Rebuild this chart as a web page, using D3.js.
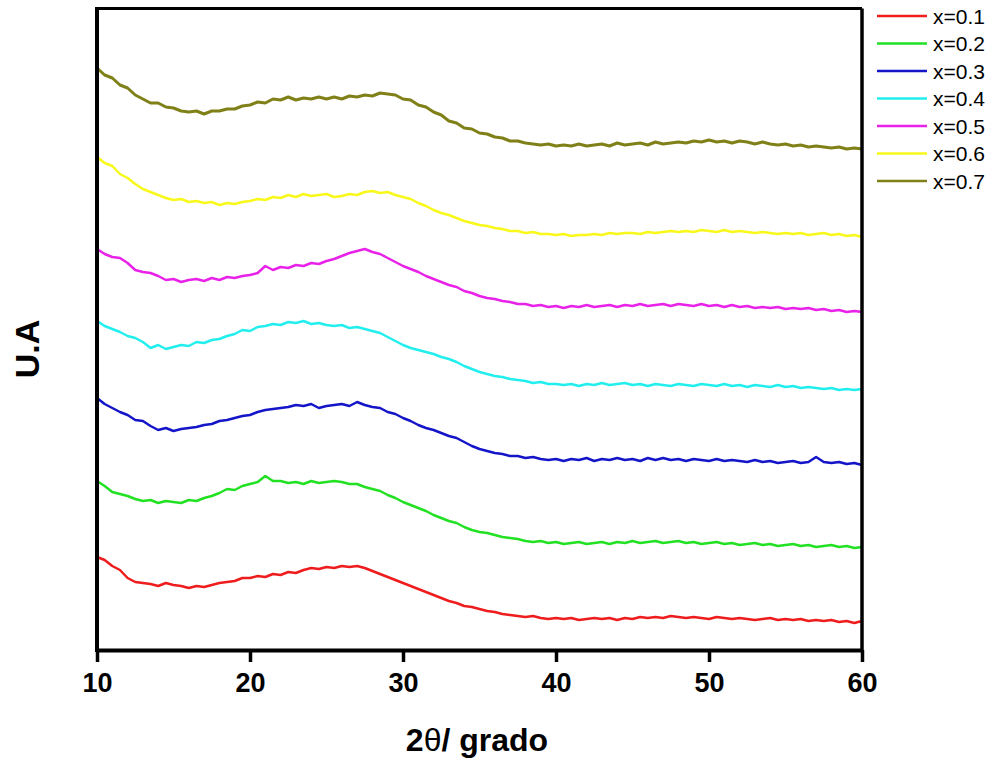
<!DOCTYPE html>
<html>
<head>
<meta charset="utf-8">
<script src="https://cdn.jsdelivr.net/npm/d3@7"></script>
<style>
  body { margin: 0; background: #fff; }
  svg { display: block; font-family: Arial, "Liberation Sans", sans-serif; }
</style>
</head>
<body>
<div id="chart"></div>
<script>
// 2theta grid: 10 .. 60 deg, step 0.5
const thetaStart = 10, thetaStep = 0.5;
const xTicks = [10, 20, 30, 40, 50, 60];

const labels = ["x=0.1", "x=0.2", "x=0.3", "x=0.4", "x=0.5", "x=0.6", "x=0.7"];
const colors = ["#ee1c1c", "#22e022", "#1414c8", "#22eeee", "#e822e8", "#f8f81a", "#808018"];

// intensities (a.u., stacked as plotted), one value every 0.5 deg
const x01 = [
  93,90,84,80,72,68,67,66,64,67,
  65,64,62,64,63,65,67,68,69,72,
  72,74,73,76,75,78,77,80,82,81,
  83,82,84,83,84,82,79,76,73,70,
  67,64,61,58,55,52,49,47,44,43,
  41,39,38,36,35,34,33,34,32,31,
  32,31,32,30,31,32,31,32,30,32,
  31,33,32,33,32,34,33,32,33,32,
  31,33,32,31,32,31,30,31,32,30,
  31,30,31,29,30,29,30,28,29,27,
  29];
const x02 = [
  169,164,158,156,154,151,149,150,147,149,
  148,147,150,149,152,154,157,161,160,164,
  166,168,174,169,169,167,168,166,169,167,
  168,169,168,166,166,163,161,159,155,152,
  148,145,142,139,135,132,129,127,123,120,
  118,117,115,113,112,111,109,108,109,107,
  108,106,107,108,106,107,108,106,108,107,
  109,107,108,109,107,108,109,107,108,106,
  107,108,106,107,105,106,107,105,106,104,
  105,106,104,105,103,104,105,103,104,102,
  103];
const x03 = [
  252,246,242,238,235,230,229,224,220,222,
  219,221,222,223,225,226,229,230,232,234,
  235,238,240,241,242,243,245,244,246,242,
  244,245,246,244,248,245,243,242,238,236,
  232,229,225,222,220,217,214,212,208,204,
  201,199,197,196,194,194,192,193,191,190,
  191,189,191,190,192,189,191,190,192,190,
  191,189,192,190,192,190,191,189,191,190,
  189,191,189,190,189,188,190,188,189,187,
  188,189,187,188,193,188,187,188,186,187,
  185];
const x04 = [
  329,324,321,318,314,312,308,302,305,301,
  303,305,304,308,307,310,311,314,316,320,
  319,323,324,326,325,328,327,329,326,327,
  325,324,325,322,323,321,319,317,313,309,
  305,302,300,298,296,293,291,288,284,281,
  278,276,274,273,271,270,269,267,268,266,
  266,265,266,264,266,265,267,265,266,267,
  265,266,264,266,265,264,266,265,264,266,
  265,264,266,264,265,263,265,264,263,265,
  263,264,262,263,262,261,262,260,261,260,
  261];
const x05 = [
  401,396,393,392,387,380,378,377,374,370,
  371,368,370,371,369,372,370,373,372,374,
  375,377,384,380,383,382,385,384,387,386,
  389,391,394,397,399,401,398,396,392,388,
  384,381,378,374,371,368,365,363,359,357,
  354,352,351,349,348,346,346,344,345,343,
  344,342,344,343,345,343,344,345,343,345,
  344,346,344,345,346,344,346,345,344,346,
  344,345,343,345,343,344,342,343,342,343,
  341,342,341,342,340,341,339,340,338,339,
  338];
const x06 = [
  493,487,484,476,472,466,461,458,455,452,
  450,451,448,449,447,448,445,447,446,448,
  449,451,450,453,452,455,453,456,454,455,
  456,453,454,456,455,458,459,457,458,455,
  453,451,447,444,440,437,435,432,429,427,
  425,424,422,421,419,419,417,418,416,416,
  415,416,414,415,415,416,415,417,416,417,
  417,416,418,417,418,419,418,419,418,420,
  419,418,420,418,419,418,417,418,417,416,
  417,416,417,415,416,417,415,416,414,415,
  413];
const x07 = [
  582,575,572,565,562,555,551,547,547,543,
  542,539,538,539,536,539,539,541,541,544,
  545,548,547,551,550,553,550,552,551,553,
  551,553,551,554,553,555,554,557,556,555,
  551,550,545,543,538,535,529,527,522,521,
  517,516,513,512,509,509,507,506,505,506,
  504,505,504,506,504,505,506,504,507,505,
  506,507,505,508,506,507,508,507,509,508,
  510,508,509,507,509,508,506,508,506,505,
  506,504,505,503,504,503,502,503,501,502,
  501];

const seriesValues = [x01, x02, x03, x04, x05, x06, x07];

const width = 992, height = 761;
const margin = { left: 97, right: 130, top: 8.5, bottom: 111 };

const svg = d3.select("#chart")
  .append("svg")
  .attr("width", width)
  .attr("height", height);

const x = d3.scaleLinear()
  .domain([10, 60])
  .range([margin.left, width - margin.right]);

const y = d3.scaleLinear()
  .domain([0, 641.5])
  .range([height - margin.bottom, margin.top]);

// curves
const line = d3.line()
  .x((d, i) => x(thetaStart + i * thetaStep))
  .y(d => y(d));

svg.append("g")
  .attr("class", "curves")
  .selectAll("path")
  .data(seriesValues)
  .join("path")
  .attr("d", line)
  .attr("fill", "none")
  .attr("stroke", (d, i) => colors[i])
  .attr("stroke-width", (d, i) => i === 6 ? 3 : 2.5)
  .attr("stroke-linejoin", "round");

// frame
const x0 = x(10), x1 = x(60), y0 = y(0), y1 = y(641.5);
svg.append("line").attr("x1", x0).attr("x2", x1).attr("y1", y1).attr("y2", y1)
  .attr("stroke", "#000").attr("stroke-width", 3);
svg.append("line").attr("x1", x1).attr("x2", x1).attr("y1", y1).attr("y2", y0)
  .attr("stroke", "#000").attr("stroke-width", 3.5);

// bottom axis
const xAxis = svg.append("g")
  .attr("transform", `translate(0,${y0})`)
  .call(d3.axisBottom(x).tickValues(xTicks).tickSize(12).tickPadding(11).tickSizeOuter(0));
xAxis.select(".domain").attr("stroke", "#000").attr("stroke-width", 4);
xAxis.selectAll(".tick line").attr("stroke", "#000").attr("stroke-width", 3.5);
xAxis.selectAll(".tick text")
  .attr("fill", "#000")
  .attr("font-size", "27px")
  .attr("font-weight", "bold")
  .attr("font-family", "Arial, 'Liberation Sans', sans-serif");

// left spine
svg.append("line").attr("x1", x0).attr("x2", x0).attr("y1", y1 - 1.5).attr("y2", y0 + 2)
  .attr("stroke", "#000").attr("stroke-width", 4);

// axis titles
const xTitle = svg.append("text")
  .attr("x", 477)
  .attr("y", 751)
  .attr("text-anchor", "middle")
  .attr("font-size", "32px")
  .attr("font-weight", "bold")
  .attr("fill", "#000");
xTitle.append("tspan").text("2");
xTitle.append("tspan").attr("font-weight", "normal").text("θ");
xTitle.append("tspan").text("/ grado");

svg.append("text")
  .attr("transform", "translate(39,349) rotate(-90)")
  .attr("text-anchor", "middle")
  .attr("font-size", "34px")
  .attr("font-weight", "bold")
  .attr("fill", "#000")
  .text("U.A");

// legend
const legend = svg.append("g").attr("class", "legend");
labels.forEach((lab, i) => {
  const ly = 16 + i * 27.5;
  legend.append("line")
    .attr("x1", 877).attr("x2", 927)
    .attr("y1", ly).attr("y2", ly)
    .attr("stroke", colors[i])
    .attr("stroke-width", 2.5);
  legend.append("text")
    .attr("x", 933)
    .attr("y", ly + 7.5)
    .attr("font-size", "21px")
    .attr("fill", "#000")
    .text(lab);
});
</script>
</body>
</html>
